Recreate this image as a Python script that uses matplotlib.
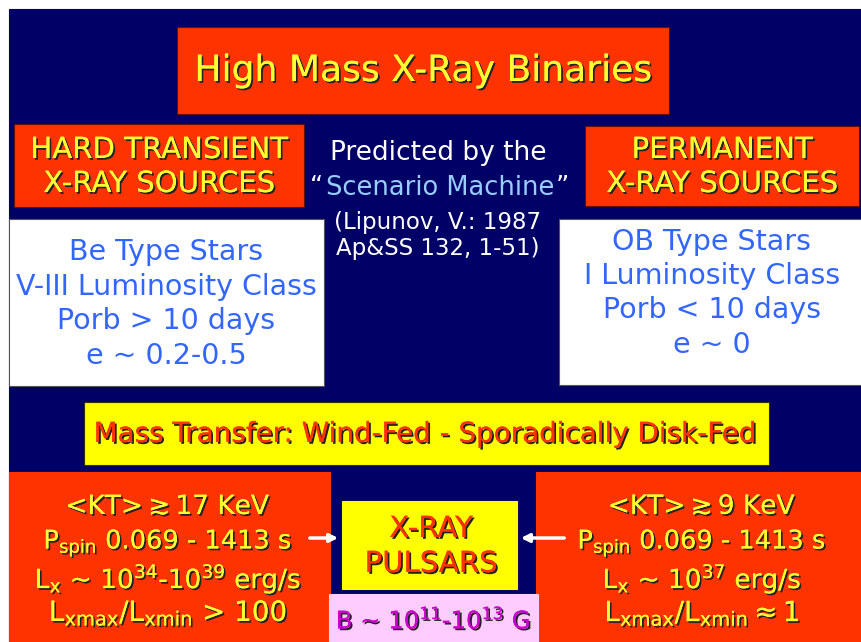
import matplotlib
matplotlib.use("Agg")
import matplotlib.pyplot as plt
from matplotlib.patches import Rectangle, FancyArrowPatch
import matplotlib.patheffects as pe

plt.rcParams['font.family'] = ['DejaVu Sans']
plt.rcParams['mathtext.fontset'] = 'dejavusans'

# ---- content ----
title = "High Mass X-Ray Binaries"
left_header = ["HARD TRANSIENT", "X-RAY SOURCES"]
right_header = ["PERMANENT", "X-RAY SOURCES"]
center_lines = ["Predicted by the", "Scenario Machine", "(Lipunov, V.: 1987", "Ap&SS 132, 1-51)"]
left_star = ["Be Type Stars", "V-III Luminosity Class", "Porb > 10 days", "e ~ 0.2-0.5"]
right_star = ["OB Type Stars", "I Luminosity Class", "Porb < 10 days", "e ~ 0"]
mass_transfer = "Mass Transfer: Wind-Fed - Sporadically Disk-Fed"
left_props = [r"<KT>$\gtrsim$17 KeV", r"P$_{\rm spin}$ 0.069 - 1413 s",
              r"L$_{\rm x}$ ~ 10$^{34}$-10$^{39}$ erg/s", r"L$_{\rm xmax}$/L$_{\rm xmin}$ > 100"]
right_props = [r"<KT>$\gtrsim$9 KeV", r"P$_{\rm spin}$ 0.069 - 1413 s",
               r"L$_{\rm x}$ ~ 10$^{37}$ erg/s", r"L$_{\rm xmax}$/L$_{\rm xmin}$$\approx$1"]
pulsar = ["X-RAY", "PULSARS"]
bfield = r"B ~ 10$^{11}$-10$^{13}$ G"

NAVY = "#000066"
ORANGE = "#FF3300"
YELLOW = "#FFFF00"
TEXTYEL = "#FFFF33"
BLUE = "#3366FF"
LBLUE = "#99CCFF"
PINK = "#FFCCFF"
MAGENTA = "#CC00CC"

W, H = 862, 642
fig = plt.figure(figsize=(W / 100, H / 100), dpi=100)
ax = fig.add_axes([0, 0, 1, 1])
ax.set_xlim(0, W)
ax.set_ylim(H, 0)
ax.axis("off")
fig.patch.set_facecolor("white")

def box(x0, y0, x1, y1, color, z=1, edge=None):
    ax.add_patch(Rectangle((x0, y0), x1 - x0, y1 - y0, facecolor=color,
                           edgecolor=edge if edge else color, lw=0.8, zorder=z))

shadow = [pe.withSimplePatchShadow(offset=(1.3, -1.3), shadow_rgbFace="#222222", alpha=1.0), pe.Normal()]

def txt(x, y, s, color, size, shad=True, **kw):
    ax.text(x, y, s, color=color, fontsize=size, ha="center", va="center",
            path_effects=shadow if shad else None, zorder=5, **kw)

# background
box(9, 9, W, H, NAVY, z=0)

# title
box(177, 27, 669, 114, ORANGE, edge="#661100")
txt(423, 71, title, TEXTYEL, 26)

# headers
box(14, 124, 304, 207, ORANGE, edge="#661100")
for s, y in zip(left_header, [150, 184]):
    txt(159, y, s, TEXTYEL, 21)
box(585, 126, 859, 206, ORANGE, edge="#661100")
for s, y in zip(right_header, [150, 184]):
    txt(722, y, s, TEXTYEL, 21)

# centre note
txt(438, 153, center_lines[0], "white", 19, shad=False)
ax.text(440, 188, center_lines[1], color=LBLUE, fontsize=18.5, ha="center", va="center", zorder=5)
ax.text(317, 188, "\u201c", color="white", fontsize=18.5, ha="center", va="center", zorder=5)
ax.text(562, 188, "\u201d", color="white", fontsize=18.5, ha="center", va="center", zorder=5)
txt(438, 223, center_lines[2], "white", 16.5, shad=False)
txt(438, 248, center_lines[3], "white", 16.5, shad=False)

# star boxes
box(9, 219, 324, 386, "white", edge="#555555")
for s, y in zip(left_star, [252, 287, 321, 356]):
    txt(166, y, s, BLUE, 20.5, shad=False)
box(559, 219, W, 385, "white", edge="#555555")
for s, y in zip(right_star, [242, 276, 310, 345]):
    txt(712, y, s, BLUE, 20.5, shad=False)

# mass transfer
box(84, 402, 769, 465, YELLOW, edge="#333300")
txt(425, 434, mass_transfer, ORANGE, 20)

# bottom property boxes
box(9, 472, 330, H, ORANGE)
for s, y, fs in zip(left_props, [507, 543, 579, 613], [19, 18.5, 19, 20]):
    txt(168, y, s, TEXTYEL, fs)
box(536, 472, W, H, ORANGE)
for s, y, fs in zip(right_props, [507, 543, 579, 613], [19, 18.5, 19, 20]):
    txt(702, y, s, TEXTYEL, fs)

# pulsar box
box(342, 501, 517, 589, YELLOW)
for s, y in zip(pulsar, [529, 564]):
    txt(431, y, s, ORANGE, 21)
box(329, 594, 538, H, PINK)
txt(433, 620, bfield, MAGENTA, 17.5)

# arrows
for xs, xe in [(307, 341), (567, 518)]:
    ax.add_patch(FancyArrowPatch((xs, 538), (xe, 538), arrowstyle="-|>", mutation_scale=12,
                                 color="white", lw=2.5, zorder=6))

fig.savefig("out.png", dpi=100, facecolor="white")
